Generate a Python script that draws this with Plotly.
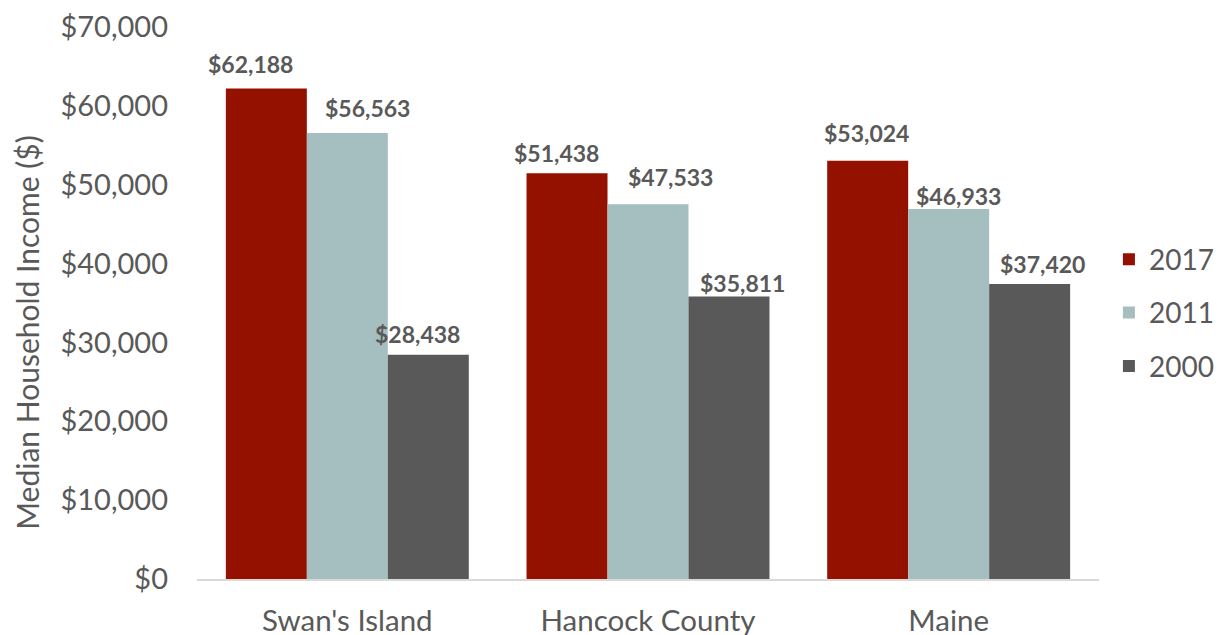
import plotly.graph_objects as go

categories = ["Swan's Island", "Hancock County", "Maine"]
years = ["2017", "2011", "2000"]
values_2017 = [62188, 51438, 53024]
values_2011 = [56563, 47533, 46933]
values_2000 = [28438, 35811, 37420]
colors = ["#941100", "#A5BEBF", "#595959"]

series = [values_2017, values_2011, values_2000]

# label placement tweaks (pixels), as in the reference's hand-placed labels
label_dx = [[-16, -10.7, -1], [20, 22, 10], [-10.5, 14, 12.7]]
label_dy = [[9, 4, 11.5], [9, 11.5, -3.5], [5, -2.5, 4]]

BARGAP = 0.192
FONT = "Lato"
TXT = "#595959"

fig = go.Figure()
for name, vals, col in zip(years, series, colors):
    fig.add_trace(go.Bar(
        x=list(range(len(categories))), y=vals, name=name,
        legendgroup=name,
        marker=dict(color=col, line=dict(width=0)),
    ))

# data labels above bars
n = len(series)
bw = (1 - BARGAP) / n
for j, vals in enumerate(series):
    off = (j - (n - 1) / 2) * bw
    for i, v in enumerate(vals):
        fig.add_annotation(
            x=i + off, y=v, xref="x", yref="y",
            text=f"<b>${v:,}</b>", showarrow=False,
            yanchor="bottom", xshift=label_dx[j][i], yshift=label_dy[j][i],
            font=dict(family=FONT, size=23, color=TXT),
        )

# y-axis title
fig.add_annotation(
    x=-0.1893, y=0.4465, xref="paper", yref="paper",
    text="Median Household Income ($)", textangle=-90, showarrow=False,
    xanchor="center", yanchor="middle",
    font=dict(family=FONT, size=30, color=TXT),
)

fig.update_layout(
    width=1226, height=635,
    barmode="group", bargap=BARGAP, bargroupgap=0,
    plot_bgcolor="white", paper_bgcolor="white",
    margin=dict(l=188.8, r=134.8, t=18.6, b=63.7, autoexpand=False),
    font=dict(family=FONT, color=TXT),
    showlegend=True,
    legend=dict(x=1.011, y=0.482, yanchor="middle", xanchor="left",
                font=dict(size=28, color=TXT),
                traceorder="grouped", tracegroupgap=14, itemwidth=30),
)
fig.update_yaxes(range=[0, 70000], dtick=10000, tickprefix="$", tickformat=",",
                 showgrid=False, zeroline=False, showline=False, automargin=False,
                 tickfont=dict(size=29, color=TXT), ticklabeloverflow="allow",
                 ticks="", ticklabelstandoff=28)
fig.update_xaxes(showline=True, linecolor="#D9D9D9", linewidth=1.5, automargin=False,
                 tickmode="array", tickvals=list(range(len(categories))), ticktext=categories,
                 range=[-0.5, len(categories) - 0.5],
                 tickfont=dict(size=29.5, color=TXT), ticks="", showgrid=False,
                 ticklabeloverflow="allow", ticklabelstandoff=15)

fig.write_html("out.html")
